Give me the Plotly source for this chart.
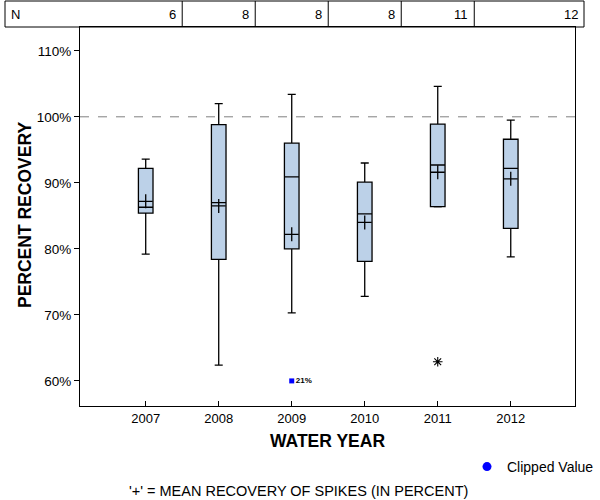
import plotly.graph_objects as go

# ---- data ----
years = [2007, 2008, 2009, 2010, 2011, 2012]
n_counts = [6, 8, 8, 8, 11, 12]
q1 = [85.4, 78.4, 80.0, 78.1, 86.4, 83.1]
medians = [86.3, 87.0, 90.9, 85.3, 92.7, 92.2]
q3 = [92.2, 98.8, 96.0, 90.1, 98.9, 96.6]
lower_whisker = [79.2, 62.4, 70.3, 72.8, 86.35, 78.8]
upper_whisker = [93.6, 102.0, 103.4, 93.0, 104.6, 99.5]
means = [87.2, 86.5, 82.2, 84.0, 91.6, 90.6]
outlier_years = [2011]
outlier_values = [62.9]
clipped_years = [2009]
clipped_values = [60]
clipped_labels = ["21%"]
y_ticks = [60, 70, 80, 90, 100, 110]
y_tick_labels = ["60%", "70%", "80%", "90%", "100%", "110%"]

FONT = "Liberation Sans, Arial, sans-serif"
W, H = 600, 500
ML, MR, MT, MB = 80, 25, 27, 94
PW = W - ML - MR
PH = H - MT - MB


def px_to_paper_x(px):
    return (px - ML) / PW


def px_to_paper_y(py):
    return (H - MB - py) / PH


fig = go.Figure()

fig.add_trace(go.Box(
    x=years, q1=q1, median=medians, q3=q3,
    lowerfence=lower_whisker, upperfence=upper_whisker,
    width=0.2, whiskerwidth=0.55,
    fillcolor="#bcd1e8", line=dict(color="black", width=1.3),
    boxpoints=False, showlegend=False, hoverinfo="skip",
))

fig.add_trace(go.Scatter(
    x=years, y=means, mode="markers", showlegend=False,
    marker=dict(symbol="cross-thin-open", size=10, color="black",
                line=dict(color="black", width=1.3)),
))

fig.add_trace(go.Scatter(
    x=outlier_years, y=outlier_values, mode="markers", showlegend=False,
    marker=dict(symbol="asterisk-open", size=8, color="black",
                line=dict(color="black", width=1.1)),
))

fig.add_trace(go.Scatter(
    x=clipped_years, y=clipped_values, mode="markers+text", showlegend=False,
    text=["<b>%s</b>" % t for t in clipped_labels], textposition="middle right",
    textfont=dict(family=FONT, size=8, color="black"),
    marker=dict(symbol="square", size=5, color="#0000ff"),
))

# legend entry
fig.add_trace(go.Scatter(
    x=[None], y=[None], mode="markers", name="Clipped Value", showlegend=True,
    marker=dict(symbol="circle", size=9, color="#0000ff"),
))

shapes = []
# reference line at 100%
shapes.append(dict(type="line", xref="paper", yref="y", x0=0, x1=1, y0=100, y1=100,
                   line=dict(color="#808080", width=1, dash="dash"), layer="below"))
# N table border
tx0, tx1 = px_to_paper_x(5), px_to_paper_x(584)
ty0, ty1 = px_to_paper_y(27), px_to_paper_y(1)
shapes.append(dict(type="rect", xref="paper", yref="paper", x0=tx0, x1=tx1, y0=ty0, y1=ty1,
                   line=dict(color="black", width=1)))
for yr in years[:-1]:
    shapes.append(dict(type="line", xref="x", yref="paper", x0=yr + 0.5, x1=yr + 0.5,
                       y0=ty0, y1=ty1, line=dict(color="black", width=1)))

annotations = []
annotations.append(dict(text="N", xref="paper", yref="paper", x=px_to_paper_x(9), y=(ty0 + ty1) / 2,
                        xanchor="left", yanchor="middle", showarrow=False,
                        font=dict(family=FONT, size=13, color="black")))
for i, (yr, n) in enumerate(zip(years, n_counts)):
    if i < len(years) - 1:
        annotations.append(dict(text=str(n), xref="x", yref="paper", x=yr + 0.5, y=(ty0 + ty1) / 2,
                                xanchor="right", yanchor="middle", xshift=-4, showarrow=False,
                                font=dict(family=FONT, size=13, color="black")))
    else:
        annotations.append(dict(text=str(n), xref="paper", yref="paper", x=tx1, y=(ty0 + ty1) / 2,
                                xanchor="right", yanchor="middle", xshift=-4, showarrow=False,
                                font=dict(family=FONT, size=13, color="black")))

annotations.append(dict(text="<b>PERCENT RECOVERY</b>", xref="paper", yref="paper",
                        x=px_to_paper_x(25), y=px_to_paper_y(215), textangle=-90,
                        xanchor="center", yanchor="middle", showarrow=False,
                        font=dict(family=FONT, size=17.5, color="black")))
annotations.append(dict(text="<b>WATER YEAR</b>", xref="paper", yref="paper",
                        x=0.5, y=px_to_paper_y(441),
                        xanchor="center", yanchor="middle", showarrow=False,
                        font=dict(family=FONT, size=17.5, color="black")))
annotations.append(dict(text="'+' = MEAN RECOVERY OF SPIKES (IN PERCENT)", xref="paper", yref="paper",
                        x=px_to_paper_x(298), y=px_to_paper_y(491),
                        xanchor="center", yanchor="middle", showarrow=False,
                        font=dict(family=FONT, size=14.5, color="black")))

fig.update_layout(
    width=W, height=H,
    margin=dict(l=ML, r=MR, t=MT, b=MB, autoexpand=False),
    paper_bgcolor="white", plot_bgcolor="white",
    font=dict(family=FONT, size=13, color="black"),
    shapes=shapes, annotations=annotations,
    legend=dict(xref="container", yref="container", x=599 / W, y=(H - 467) / H,
                xanchor="right", yanchor="middle",
                font=dict(family=FONT, size=14, color="black"), bgcolor="rgba(0,0,0,0)",
                itemwidth=30),
)

fig.update_xaxes(
    range=[2006.1, 2012.88], tickvals=years, ticktext=[str(y) for y in years],
    ticks="inside", ticklen=5, tickcolor="black", showline=True, linecolor="black",
    linewidth=1, mirror=True, showgrid=False, zeroline=False,
    tickfont=dict(family=FONT, size=13, color="black"),
)
fig.update_yaxes(
    range=[56.2, 113.6], tickvals=y_ticks, ticktext=y_tick_labels,
    ticks="outside", ticklen=5, tickcolor="black", showline=True, linecolor="black",
    linewidth=1, mirror=True, showgrid=False, zeroline=False,
    tickfont=dict(family=FONT, size=13.5, color="black"),
)

fig.write_html("out.html", config={"displayModeBar": False},
               post_script="document.body.style.margin='0';")
